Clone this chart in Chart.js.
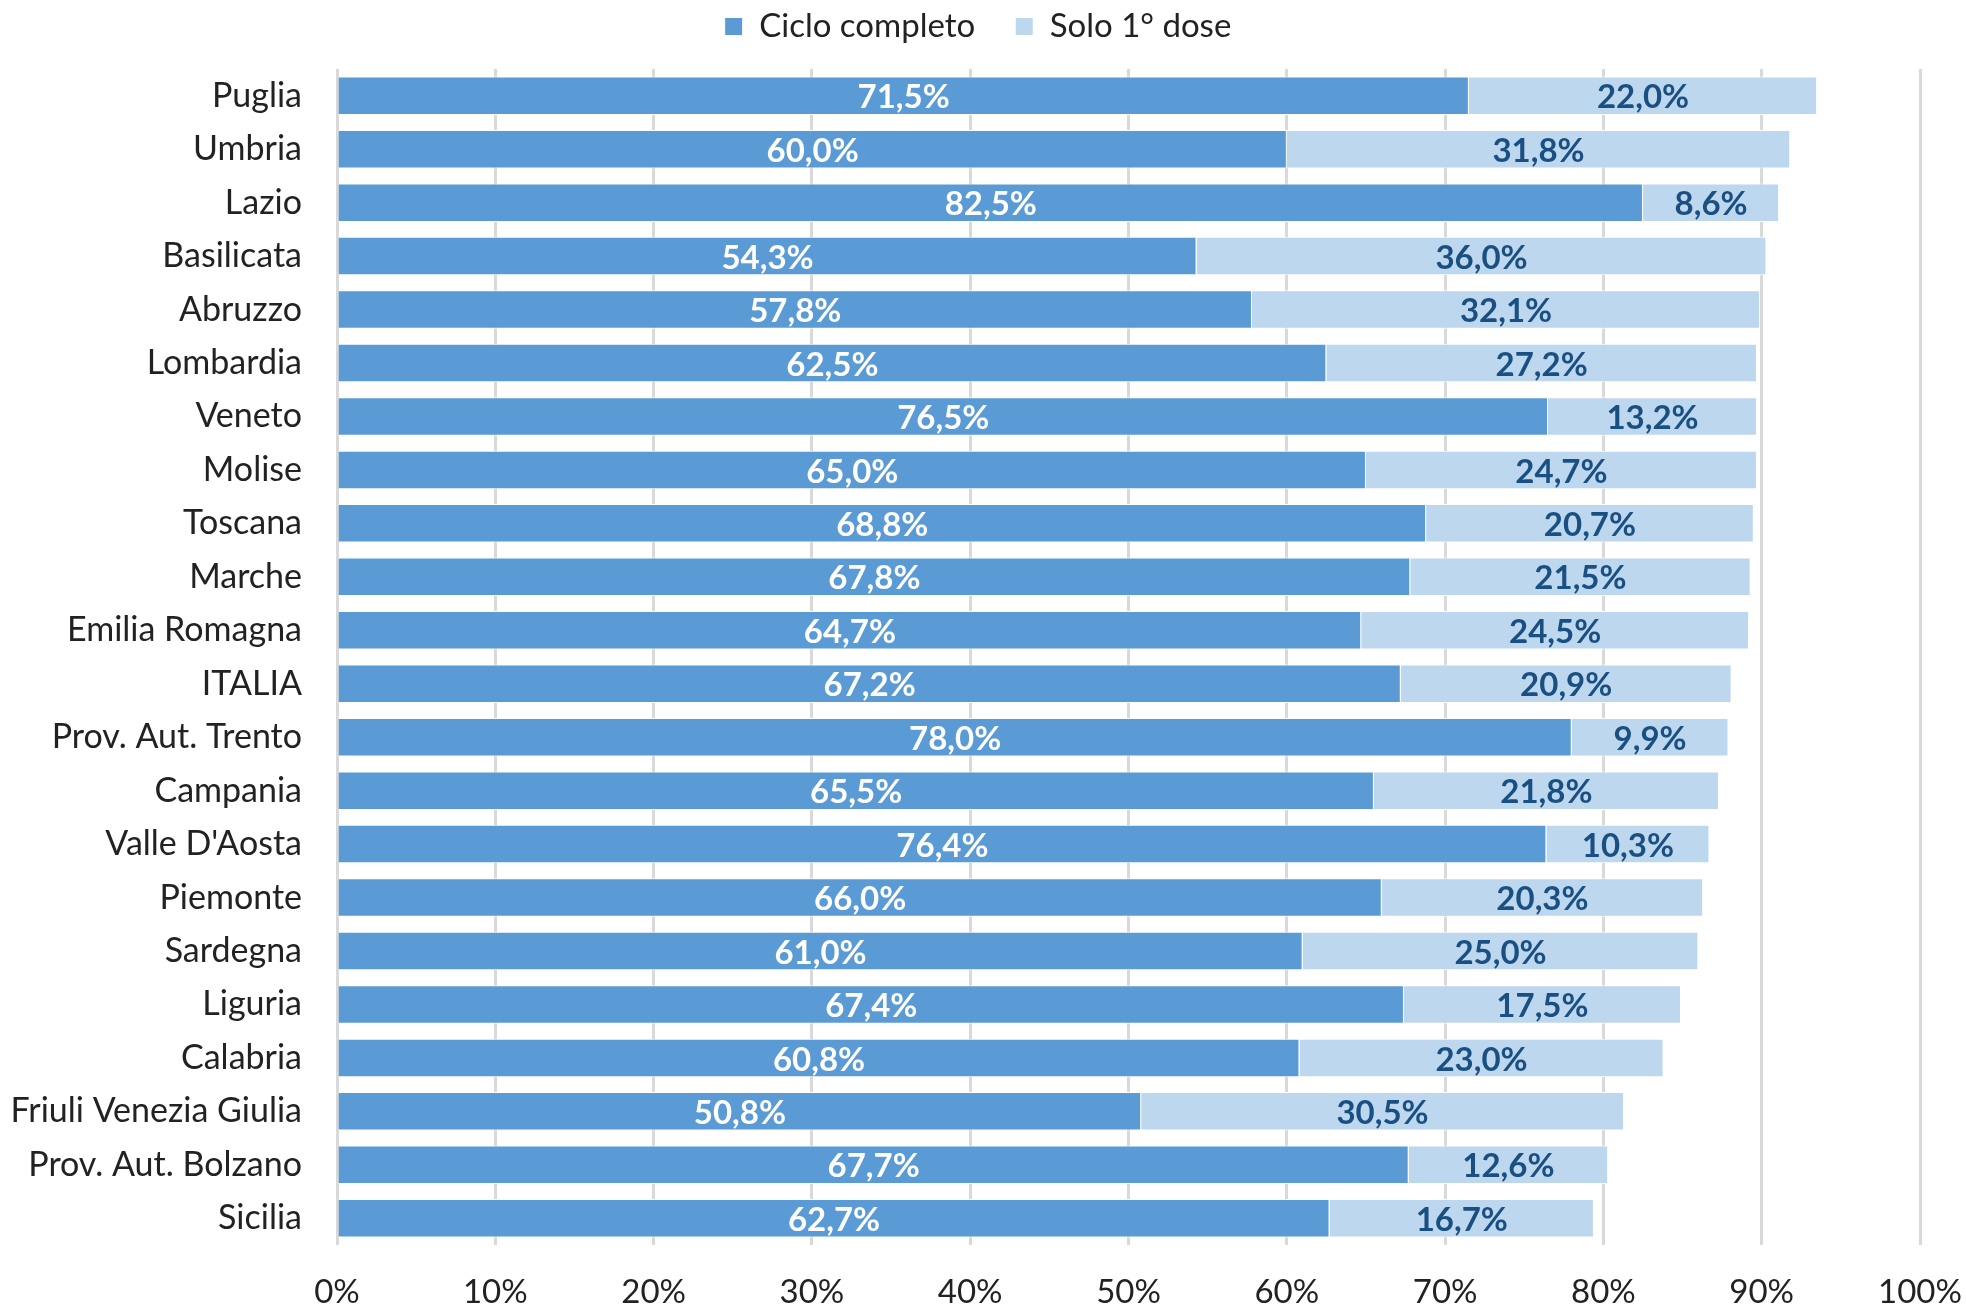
<!DOCTYPE html>
<html>
<head>
<meta charset="utf-8">
<script src="https://cdn.jsdelivr.net/npm/chart.js@4"></script>
<style>
  html, body { margin: 0; padding: 0; background: #fff; }
  #wrap { width: 1966px; height: 1306px; }
</style>
</head>
<body>
<div id="wrap"><canvas id="barChart"></canvas></div>
<script>
// regions, sorted as in the original chart
const regions = [
    'Puglia', 'Umbria', 'Lazio', 'Basilicata', 'Abruzzo', 'Lombardia', 'Veneto',
    'Molise', 'Toscana', 'Marche', 'Emilia Romagna', 'ITALIA', 'Prov. Aut. Trento',
    'Campania', "Valle D'Aosta", 'Piemonte', 'Sardegna', 'Liguria', 'Calabria',
    'Friuli Venezia Giulia', 'Prov. Aut. Bolzano', 'Sicilia'
];
const cicloCompleto = [
    71.5, 60.0, 82.5, 54.3, 57.8, 62.5, 76.5, 65.0, 68.8, 67.8, 64.7,
    67.2, 78.0, 65.5, 76.4, 66.0, 61.0, 67.4, 60.8, 50.8, 67.7, 62.7
];
const soloPrimaDose = [
    22.0, 31.8, 8.6, 36.0, 32.1, 27.2, 13.2, 24.7, 20.7, 21.5, 24.5,
    20.9, 9.9, 21.8, 10.3, 20.3, 25.0, 17.5, 23.0, 30.5, 12.6, 16.7
];
const seriesNames = ['Ciclo completo', 'Solo 1° dose'];
const xTicks = [0, 10, 20, 30, 40, 50, 60, 70, 80, 90, 100];

const FONT = 'Lato';
const labelColors = ['#ffffff', '#1a4f82'];

function formatPct(v) {
    return v.toFixed(1).replace('.', ',') + '%';
}

// draw the value of each segment in its middle
const barLabels = {
    id: 'barLabels',
    afterDatasetsDraw(chart) {
        const ctx = chart.ctx;
        ctx.save();
        ctx.font = 'bold 33px ' + FONT;
        ctx.textAlign = 'center';
        ctx.textBaseline = 'middle';
        chart.data.datasets.forEach((ds, i) => {
            const meta = chart.getDatasetMeta(i);
            meta.data.forEach((bar, j) => {
                const p = bar.getCenterPoint();
                ctx.fillStyle = labelColors[i];
                ctx.fillText(formatPct(ds.data[j]), p.x, p.y + 2);
            });
        });
        ctx.restore();
    }
};

// fixed legend height so the plot starts where the original does,
// and nudge the legend a bit to the right like in the original
const legendHeight = {
    id: 'legendHeight',
    beforeInit(chart) {
        const fit = chart.legend.fit;
        chart.legend.fit = function () {
            fit.call(this);
            this.height = 99;
        };
    },
    afterLayout(chart) {
        chart.legend.left += 36;
    }
};

const ctx = document.getElementById('barChart').getContext('2d');
new Chart(ctx, {
    type: 'bar',
    data: {
        labels: regions,
        datasets: [{
            label: seriesNames[0],
            data: cicloCompleto,
            backgroundColor: '#5b9bd5',
            borderColor: '#ffffff',
            borderWidth: 1,
            categoryPercentage: 1,
            barPercentage: 0.72
        }, {
            label: seriesNames[1],
            data: soloPrimaDose,
            backgroundColor: '#bdd7ee',
            borderColor: '#ffffff',
            borderWidth: 1,
            categoryPercentage: 1,
            barPercentage: 0.72
        }]
    },
    options: {
        indexAxis: 'y',
        responsive: true,
        maintainAspectRatio: false,
        animation: false,
        layout: { padding: { left: 0, right: 46, top: -30, bottom: 0 } },
        plugins: {
            legend: {
                position: 'top',
                labels: {
                    font: { family: FONT, size: 33 },
                    color: '#222',
                    boxWidth: 18,
                    boxHeight: 18,
                    padding: 40
                }
            },
            tooltip: { enabled: false }
        },
        scales: {
            x: {
                stacked: true,
                min: 0,
                max: 100,
                afterBuildTicks(scale) {
                    scale.ticks = xTicks.map(v => ({ value: v }));
                },
                afterFit(scale) {
                    scale.height = 61;
                    scale.paddingLeft = 0;
                    scale.paddingRight = 0;
                },
                grid: { color: '#d9d9d9', lineWidth: 3, drawTicks: false },
                border: { display: false },
                ticks: {
                    padding: 28,
                    color: '#222',
                    font: { family: FONT, size: 33 },
                    callback: v => v + '%'
                }
            },
            y: {
                stacked: true,
                afterFit(scale) { scale.width = 337; },
                grid: { display: false, drawTicks: false },
                border: { display: false },
                ticks: {
                    padding: 35,
                    color: '#222',
                    font: { family: FONT, size: 34 }
                }
            }
        }
    },
    plugins: [barLabels, legendHeight]
});
</script>
</body>
</html>
